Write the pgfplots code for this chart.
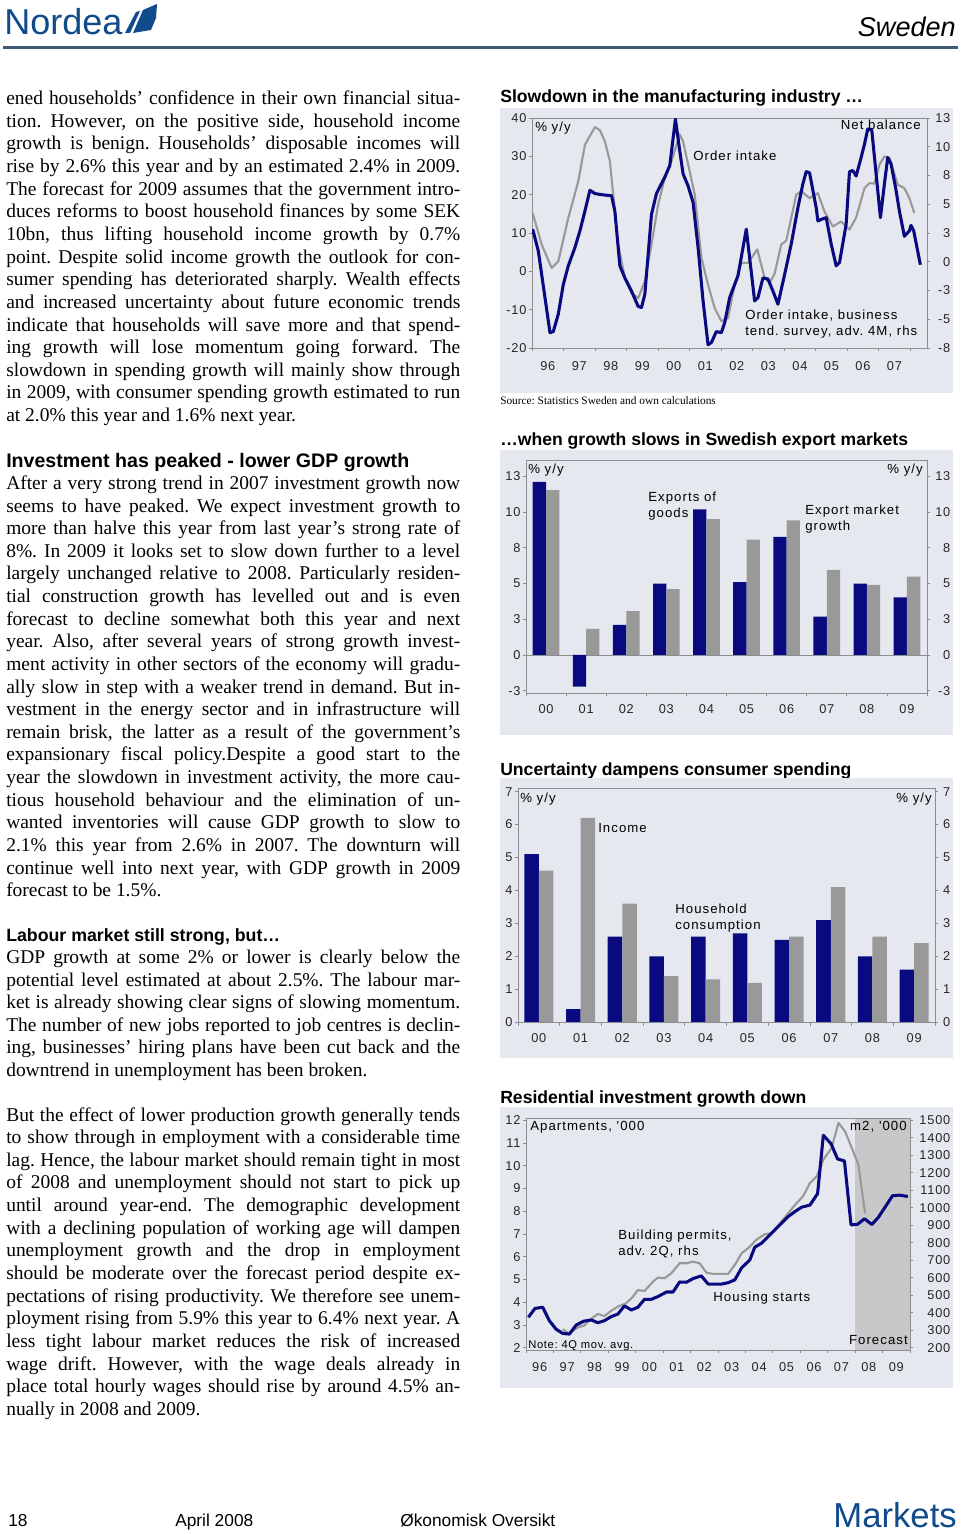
\documentclass[border=0pt]{standalone}
\usepackage{pgfplots}
\pgfplotsset{compat=1.18}
\usepackage{fontspec}
\setmainfont{Liberation Serif}
\newfontfamily\arial{Liberation Sans}
\newfontfamily\cf[LetterSpace=6]{Liberation Sans}
\newfontfamily\cfa[LetterSpace=8]{Liberation Sans}
\definecolor{navy}{RGB}{10,10,128}
\definecolor{bargray}{RGB}{153,153,153}
\definecolor{panel}{RGB}{229,232,238}
\definecolor{frame}{RGB}{140,140,145}
\definecolor{nordblue}{RGB}{16,76,140}
\definecolor{rulec}{RGB}{62,90,118}
\definecolor{fcast}{RGB}{200,200,202}
\frenchspacing
\newcommand\bodyfont{\fontsize{14.6pt}{17pt}\selectfont}
\newcommand\tl{\cf\fontsize{9.6pt}{11pt}\selectfont}
\newcommand\al{\cfa\fontsize{9.9pt}{11pt}\selectfont}
\newcommand\tf{\arial\bfseries\fontsize{13.2pt}{15pt}\selectfont}
\newcommand\J[2]{\node[anchor=base west,inner sep=0pt,font=\bodyfont] at (6,{\pb+\pp*#1}) {\makebox[340.5pt][s]{#2}};}
\newcommand\E[2]{\node[anchor=base west,inner sep=0pt,font=\bodyfont] at (6,{\pb+\pp*#1}) {#2};}
\newcommand\CL[3]{\node[anchor=base west,inner sep=0pt,font=\al] at (#1,#2) {#3};}
\newcommand\CR[3]{\node[anchor=base east,inner sep=0pt,font=\al] at (#1,#2) {#3};}
\pgfplotsset{
 rs/.style={
  scale only axis, anchor=south west,
  axis line style={draw=frame, line width=0.6pt},
  tick style={draw=frame, line width=0.6pt},
  tick align=outside, major tick length=2.5pt,
  ticklabel style={font=\tl, text=black!85},
  yticklabel style={inner xsep=1.5pt},
 },
}
\begin{document}
\begin{tikzpicture}[x=0.75pt,y=-0.75pt]
\useasboundingbox (0,0) rectangle (960,1534);
\fill[white] (0,0) rectangle (960,1534);
% ---------- header
\node[anchor=base west,inner sep=0pt,font=\arial\fontsize{27pt}{30pt}\selectfont,text=nordblue] at (4,35) {Nordea};
\fill[nordblue] (125,33) -- (136,12) -- (140,11) -- (130,33) -- cycle;
\fill[nordblue] (133,33) -- (143,10) -- (157,4) -- (156,18) -- (151,30) -- cycle;
\node[anchor=base east,inner sep=0pt,font=\arial\itshape\fontsize{20.3pt}{24pt}\selectfont] at (956,37) {Sweden};
\draw[rulec, line width=2.25pt] (3,48) -- (958,48);
% ---------- body text
\def\pb{104.5}\def\pp{22.65}
\J{0}{ened households’ confidence in their own financial situa-}
\J{1}{tion. However, on the positive side, household income}
\J{2}{growth is benign. Households’ disposable incomes will}
\J{3}{rise by 2.6\% this year and by an estimated 2.4\% in 2009.}
\J{4}{The forecast for 2009 assumes that the government intro-}
\J{5}{duces reforms to boost household finances by some SEK}
\J{6}{10bn, thus lifting household income growth by 0.7\%}
\J{7}{point. Despite solid income growth the outlook for con-}
\J{8}{sumer spending has deteriorated sharply. Wealth effects}
\J{9}{and increased uncertainty about future economic trends}
\J{10}{indicate that households will save more and that spend-}
\J{11}{ing growth will lose momentum going forward. The}
\J{12}{slowdown in spending growth will mainly show through}
\J{13}{in 2009, with consumer spending growth estimated to run}
\E{14}{at 2.0\% this year and 1.6\% next year.}
\node[anchor=base west,inner sep=0pt,font=\arial\bfseries\fontsize{14.7pt}{17pt}\selectfont] at (6,467) {Investment has peaked - lower GDP growth};
\def\pb{489.5}\def\pp{22.62}
\J{0}{After a very strong trend in 2007 investment growth now}
\J{1}{seems to have peaked. We expect investment growth to}
\J{2}{more than halve this year from last year's strong rate of}
\J{3}{8\%. In 2009 it looks set to slow down further to a level}
\J{4}{largely unchanged relative to 2008. Particularly residen-}
\J{5}{tial construction growth has levelled out and is even}
\J{6}{forecast to decline somewhat both this year and next}
\J{7}{year. Also, after several years of strong growth invest-}
\J{8}{ment activity in other sectors of the economy will gradu-}
\J{9}{ally slow in step with a weaker trend in demand. But in-}
\J{10}{vestment in the energy sector and in infrastructure will}
\J{11}{remain brisk, the latter as a result of the government’s}
\J{12}{expansionary fiscal policy.Despite a good start to the}
\J{13}{year the slowdown in investment activity, the more cau-}
\J{14}{tious household behaviour and the elimination of un-}
\J{15}{wanted inventories will cause GDP growth to slow to}
\J{16}{2.1\% this year from 2.6\% in 2007. The downturn will}
\J{17}{continue well into next year, with GDP growth in 2009}
\E{18}{forecast to be 1.5\%.}
\node[anchor=base west,inner sep=0pt,font=\arial\bfseries\fontsize{13.3pt}{16pt}\selectfont] at (6,941) {Labour market still strong, but…};
\def\pb{963.5}\def\pp{22.6}
\J{0}{GDP growth at some 2\% or lower is clearly below the}
\J{1}{potential level estimated at about 2.5\%. The labour mar-}
\J{2}{ket is already showing clear signs of slowing momentum.}
\J{3}{The number of new jobs reported to job centres is declin-}
\J{4}{ing, businesses’ hiring plans have been cut back and the}
\E{5}{downtrend in unemployment has been broken.}
\def\pb{1121}\def\pp{22.65}
\J{0}{But the effect of lower production growth generally tends}
\J{1}{to show through in employment with a considerable time}
\J{2}{lag. Hence, the labour market should remain tight in most}
\J{3}{of 2008 and unemployment should not start to pick up}
\J{4}{until around year-end. The demographic development}
\J{5}{with a declining population of working age will dampen}
\J{6}{unemployment growth and the drop in employment}
\J{7}{should be moderate over the forecast period despite ex-}
\J{8}{pectations of rising productivity. We therefore see unem-}
\J{9}{ployment rising from 5.9\% this year to 6.4\% next year. A}
\J{10}{less tight labour market reduces the risk of increased}
\J{11}{wage drift. However, with the wage deals already in}
\J{12}{place total hourly wages should rise by around 4.5\% an-}
\E{13}{nually in 2008 and 2009.}
% ---------- footer
\node[anchor=base west,inner sep=0pt,font=\arial\fontsize{13pt}{15pt}\selectfont] at (8,1526) {18};
\node[anchor=base west,inner sep=0pt,font=\arial\fontsize{13pt}{15pt}\selectfont] at (175,1526) {April 2008};
\node[anchor=base west,inner sep=0pt,font=\arial\fontsize{13pt}{15pt}\selectfont] at (400,1526) {Økonomisk Oversikt};
\node[anchor=base east,inner sep=0pt,font=\arial\fontsize{26pt}{30pt}\selectfont,text=nordblue] at (957,1527) {Markets};
% ================= CHART 1
\node[anchor=base west,inner sep=0pt,font=\tf] at (500,102.5) {Slowdown in the manufacturing industry …};
\fill[panel] (500,108) rectangle (953,393);
\begin{axis}[rs, at={(399pt,-261pt)}, width=296.25pt, height=172.5pt,
  xmin=0, xmax=12.534, ymin=-20, ymax=40,
  xtick={0,1,...,12}, xticklabels={}, xtick pos=left,
  extra x ticks={0.5,1.5,...,11.5},
  extra x tick labels={96,97,98,99,00,01,02,03,04,05,06,07},
  extra x tick style={major tick length=0pt},
  xticklabel style={yshift=-6.5pt},
  ytick={-20,-10,...,40}, yticklabels={-20,-10,0,10,20,30,40}, ytick pos=left]
\addplot[bargray, line width=1.6pt, line join=round] coordinates {
(0.021,15.2) (0.306,7.0) (0.623,0.9) (0.834,2.6) (1.151,13.9) (1.468,23.5) (1.679,33) (1.996,37.6) (2.154,36.8) (2.313,33.9) (2.471,28.7) (2.577,20) (2.735,7) (2.946,-1.7) (3.157,-5.7) (3.369,-7) (3.580,-2.6) (3.791,7) (4.002,17.4) (4.213,24.3) (4.424,28.7) (4.688,35.7) (4.794,33.9) (5.005,26) (5.164,20) (5.375,3.5) (5.586,-3.5) (5.797,-9.6) (6.008,-13) (6.220,-12.2) (6.431,-3.5) (6.642,2.2) (6.853,2.2) (7.149,5.7) (7.381,-1.7) (7.540,-3) (7.698,-0.6) (7.909,7) (8.068,8) (8.226,13.9) (8.384,20) (8.543,20.9) (8.807,19.1) (9.071,20.4) (9.282,15.6) (9.546,11.7) (9.810,13) (10.074,10.9) (10.285,14) (10.549,21.7) (10.708,23) (10.866,22.9) (11.024,27.8) (11.183,30) (11.341,29.6) (11.605,22.6) (11.816,21.7) (11.975,19.1) (12.133,15.2)};
\end{axis}
\begin{axis}[rs, at={(399pt,-261pt)}, width=296.25pt, height=172.5pt,
  xmin=0, xmax=12.534, ymin=-8, ymax=13, xtick=\empty,
  ytick={-8,-5.375,-2.75,-0.125,2.5,5.125,7.75,10.375,13},
  yticklabels={-8,-5,-3,0,3,5,8,10,13}, ytick pos=right,
  yticklabel style={text width=14.8pt, align=right, inner xsep=0pt}]
\addplot[navy, line width=2.3pt, line join=round] coordinates {
(0.021,2.85) (0.2,0.86) (0.412,-3.4) (0.570,-6.6) (0.676,-6.5) (0.834,-4.9) (0.993,-2.2) (1.151,-0.5) (1.362,1.17) (1.521,2.7) (1.679,4.5) (1.837,6.4) (1.996,6.1) (2.207,6.0) (2.524,5.9) (2.629,4.5) (2.788,-0.5) (2.946,-1.6) (3.157,-2.8) (3.369,-4.2) (3.474,-4.3) (3.580,-3.1) (3.791,4.2) (3.949,6.1) (4.213,7.6) (4.372,8.66) (4.551,12.9) (4.688,10.0) (4.794,7.9) (4.952,6.8) (5.111,5.3) (5.269,1.2) (5.428,-3.7) (5.586,-7.7) (5.692,-7.5) (5.850,-6.5) (6.008,-6.6) (6.114,-5.7) (6.272,-3.4) (6.536,-1.4) (6.800,2.85) (7.064,-3.7) (7.170,-3.4) (7.328,-1.6) (7.487,-1.7) (7.645,-2.8) (7.804,-4.0) (8.015,-1.3) (8.226,1.5) (8.437,4.8) (8.596,7.0) (8.701,8.1) (8.807,8.0) (9.018,4.8) (9.071,3.6) (9.229,3.8) (9.335,3.9) (9.493,1.5) (9.652,-0.5) (9.757,-0.2) (9.968,3.3) (10.074,8.1) (10.180,8.2) (10.285,7.7) (10.444,9.4) (10.549,10.6) (10.655,12.0) (10.781,11.9) (10.919,7.9) (11.056,3.9) (11.183,7.0) (11.288,9.4) (11.394,8.8) (11.552,6.4) (11.658,4.5) (11.816,2.2) (11.975,2.7) (12.027,3.2) (12.112,2.7) (12.323,-0.4)};
\end{axis}
\CL{535}{131.5}{\% y/y}
\CR{921}{129.5}{Net balance}
\CL{693}{160.5}{Order intake}
\CL{745}{319.5}{Order intake, business}
\CL{745}{335.5}{tend. survey, adv. 4M, rhs}
\node[anchor=base west,inner sep=0pt,font=\fontsize{8.5pt}{10pt}\selectfont] at (500,404) {Source: Statistics Sweden and own calculations};
% ================= CHART 2
\node[anchor=base west,inner sep=0pt,font=\tf] at (500,445) {…when growth slows in Swedish export markets};
\fill[panel] (500,450) rectangle (953,735);
\begin{axis}[rs, at={(394.5pt,-519.75pt)}, width=300.75pt, height=174.75pt,
  xmin=-0.5, xmax=9.5, ymin=-2.77, ymax=14.2,
  xtick={-0.5,0.5,...,9.5}, xticklabels={}, xtick pos=left,
  extra x ticks={0,1,...,9},
  extra x tick labels={00,01,02,03,04,05,06,07,08,09},
  extra x tick style={major tick length=0pt},
  xticklabel style={yshift=-5pt},
  ytick={-2.6,0,2.6,5.2,7.8,10.4,13}, yticklabels={-3,0,3,5,8,10,13}, ytick pos=left]
\addplot[draw=frame, line width=0.5pt, forget plot] coordinates {(-0.5,0) (9.5,0)};
\addplot[ybar, bar width=10pt, bar shift=-5pt, fill=navy, draw=none] coordinates {(0,12.6) (1,-2.3) (2,2.2) (3,5.2) (4,10.6) (5,5.3) (6,8.6) (7,2.8) (8,5.2) (9,4.2)};
\addplot[ybar, bar width=10pt, bar shift=5pt, fill=bargray, draw=none] coordinates {(0,12.0) (1,1.9) (2,3.2) (3,4.8) (4,9.9) (5,8.4) (6,9.8) (7,6.2) (8,5.1) (9,5.7)};
\end{axis}
\begin{axis}[rs, at={(394.5pt,-519.75pt)}, width=300.75pt, height=174.75pt,
  xmin=-0.5, xmax=9.5, ymin=-2.77, ymax=14.2, xtick=\empty,
  ytick={-2.6,0,2.6,5.2,7.8,10.4,13}, yticklabels={-3,0,3,5,8,10,13}, ytick pos=right,
  yticklabel style={text width=14.8pt, align=right, inner xsep=0pt}]
\end{axis}
\CL{528}{473.5}{\% y/y}
\CR{923}{473.5}{\% y/y}
\CL{648}{501.5}{Exports of}
\CL{648}{517.5}{goods}
\CL{805}{514.5}{Export market}
\CL{805}{530.5}{growth}
% ================= CHART 3
\node[anchor=base west,inner sep=0pt,font=\tf] at (500,775) {Uncertainty dampens consumer spending};
\fill[panel] (500,778) rectangle (953,1058);
\begin{axis}[rs, at={(388.5pt,-766.725pt)}, width=312.75pt, height=175.5pt,
  xmin=-0.5, xmax=9.5, ymin=0, ymax=7.1,
  xtick={-0.5,0.5,...,9.5}, xticklabels={}, xtick pos=left,
  extra x ticks={0,1,...,9},
  extra x tick labels={00,01,02,03,04,05,06,07,08,09},
  extra x tick style={major tick length=0pt},
  xticklabel style={yshift=-5pt},
  ytick={0,1,...,7}, yticklabels={0,1,2,3,4,5,6,7}, ytick pos=left]
\addplot[ybar, bar width=10.9pt, bar shift=-5.45pt, fill=navy, draw=none] coordinates {(0,5.1) (1,0.4) (2,2.6) (3,2.0) (4,2.6) (5,2.7) (6,2.5) (7,3.1) (8,2.0) (9,1.6)};
\addplot[ybar, bar width=10.9pt, bar shift=5.45pt, fill=bargray, draw=none] coordinates {(0,4.6) (1,6.2) (2,3.6) (3,1.4) (4,1.3) (5,1.2) (6,2.6) (7,4.1) (8,2.6) (9,2.4)};
\end{axis}
\begin{axis}[rs, at={(388.5pt,-766.725pt)}, width=312.75pt, height=175.5pt,
  xmin=-0.5, xmax=9.5, ymin=0, ymax=7.1, xtick=\empty,
  ytick={0,1,...,7}, yticklabels={0,1,2,3,4,5,6,7}, ytick pos=right,
  yticklabel style={text width=8.8pt, align=right, inner xsep=0pt}]
\end{axis}
\CL{520}{802.5}{\% y/y}
\CR{932}{802.5}{\% y/y}
\CL{598}{832.5}{Income}
\CL{675}{913.5}{Household}
\CL{675}{929.5}{consumption}
% ================= CHART 4
\node[anchor=base west,inner sep=0pt,font=\tf] at (500,1103) {Residential investment growth down};
\fill[panel] (500,1107) rectangle (953,1388);
\begin{axis}[rs, at={(394.5pt,-1012.5pt)}, width=288pt, height=174pt,
  xmin=0, xmax=14, ymin=1.9, ymax=12.1,
  xtick={0,1,...,14}, xticklabels={}, xtick pos=left,
  extra x ticks={0.5,1.5,...,13.5},
  extra x tick labels={96,97,98,99,00,01,02,03,04,05,06,07,08,09},
  extra x tick style={major tick length=0pt},
  xticklabel style={yshift=-5.5pt},
  ytick={2,3,...,12}, yticklabels={2,3,4,5,6,7,8,9,10,11,12}, ytick pos=left]
\addplot[fill=fcast, draw=none] coordinates {(12,12.1) (14,12.1)} \closedcycle;
\end{axis}
\begin{axis}[rs, at={(394.5pt,-1012.5pt)}, width=288pt, height=174pt,
  xmin=0, xmax=14, ymin=187, ymax=1513, xtick=\empty,
  ytick={200,300,...,1500}, yticklabels={200,300,400,500,600,700,800,900,1000,1100,1200,1300,1400,1500}, ytick pos=right,
  yticklabel style={text width=27.5pt, align=right, inner xsep=0pt}]
\addplot[bargray, line width=1.6pt, line join=round] coordinates {
(1.34,305) (1.58,282) (1.89,316) (2.13,328) (2.31,358) (2.62,393) (2.86,381) (3.11,412) (3.35,435) (3.65,454) (3.90,492) (4.08,530) (4.32,524) (4.63,578) (4.81,601) (5.05,597) (5.30,626) (5.60,683) (5.85,683) (6.09,692) (6.33,683) (6.58,629) (6.82,622) (7.06,622) (7.37,622) (7.61,673) (7.86,740) (8.10,769) (8.40,817) (8.71,849) (8.95,855) (9.26,912) (9.56,969) (9.81,1017) (10.11,1068) (10.35,1141) (10.60,1179) (10.84,1275) (11.14,1341) (11.39,1485) (11.63,1437) (11.88,1341) (12.12,1246) (12.36,969)};
\end{axis}
\begin{axis}[rs, at={(394.5pt,-1012.5pt)}, width=288pt, height=174pt,
  xmin=0, xmax=14, ymin=1.9, ymax=12.1, hide axis]
\addplot[navy, line width=2.3pt, line join=round] coordinates {
(0.085,3.34) (0.33,3.73) (0.61,3.78) (0.85,3.19) (1.10,2.81) (1.34,2.63) (1.58,2.60) (1.83,3.0) (2.11,3.17) (2.38,3.22) (2.62,3.10) (2.86,3.19) (3.11,3.37) (3.35,3.48) (3.59,3.84) (3.84,3.66) (4.08,3.78) (4.32,4.13) (4.57,4.13) (4.81,4.25) (5.12,4.45) (5.36,4.45) (5.60,4.89) (5.85,4.88) (6.09,5.04) (6.39,5.16) (6.64,4.80) (6.88,4.80) (7.13,4.80) (7.37,4.86) (7.61,4.98) (7.86,5.51) (8.16,5.86) (8.34,6.42) (8.59,6.60) (8.83,6.89) (9.07,7.18) (9.32,7.48) (9.56,7.77) (9.81,7.99) (10.05,8.18) (10.35,8.27) (10.63,8.77) (10.84,11.34) (11.12,10.97) (11.36,10.30) (11.61,10.21) (11.85,7.40) (12.09,7.43) (12.34,7.67) (12.61,7.42) (12.85,7.74) (13.09,8.18) (13.36,8.68) (13.61,8.71) (13.92,8.65)};
\end{axis}
\CL{530}{1130.5}{Apartments, '000}
\CR{907}{1130.5}{m2, '000}
\CL{618}{1239.5}{Building permits,}
\CL{618}{1255.5}{adv. 2Q, rhs}
\CL{713}{1301.5}{Housing starts}
\node[anchor=base west,inner sep=0pt,font=\cf\fontsize{8.4pt}{10pt}\selectfont] at (528,1348) {Note: 4Q mov. avg.};
\CR{908}{1344.5}{Forecast}
\end{tikzpicture}
\end{document}
